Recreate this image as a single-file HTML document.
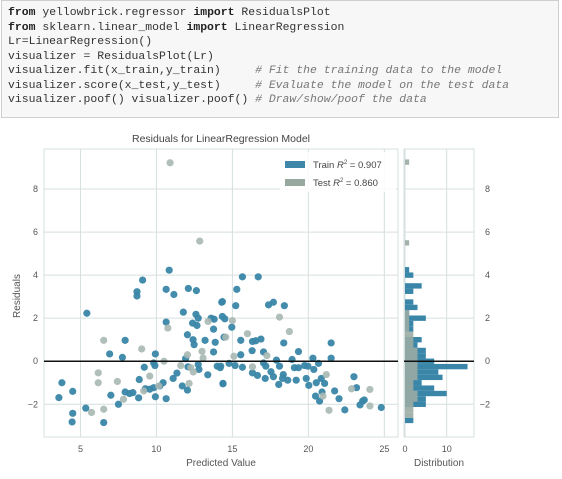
<!DOCTYPE html>
<html><head><meta charset="utf-8">
<style>
body{margin:0;background:#fff;width:562px;height:479px;overflow:hidden;position:relative;font-family:"Liberation Sans",sans-serif}
#code{position:absolute;left:1px;top:0;width:558px;height:118px;background:#f7f7f7;border:1px solid #cfcfcf;box-sizing:border-box}
#code pre{margin:0;position:absolute;left:6px;top:5px;font-family:"Liberation Mono",monospace;font-size:11.45px;line-height:14.5px;color:#333}
.k{font-weight:bold;color:#222}.c{font-style:italic;color:#777}
svg{position:absolute;left:0;top:0}
</style></head><body>
<div id="code"><pre><span class="k">from</span> yellowbrick.regressor <span class="k">import</span> ResidualsPlot
<span class="k">from</span> sklearn.linear_model <span class="k">import</span> LinearRegression
Lr=LinearRegression()
visualizer = ResidualsPlot(Lr)
visualizer.fit(x_train,y_train)     <span class="c"># Fit the training data to the model</span>
visualizer.score(x_test,y_test)     <span class="c"># Evaluate the model on the test data</span>
visualizer.poof() visualizer.poof() <span class="c"># Draw/show/poof the data</span></pre></div>
<svg id="chart" width="562" height="479"></svg>
<script>
const trainX=[10.84,9.09,8.72,8.72,10.64,11.15,12.1,12.63,5.42,14.3,11.77,10.64,12.6,12.75,12.38,12.67,13.6,13.8,13.76,12.04,12.41,12.48,13.2,13.87,13.76,7.94,6.92,7.76,9.93,11.92,12.08,12.75,12.8,9.2,9.9,9.82,14.0,14.2,13.38,11.35,11.1,8.87,10.44,10.22,9.82,9.56,9.27,11.7,12.04,14.38,7.94,8.23,8.45,8.83,7.5,9.93,10.64,3.78,4.49,3.58,5.35,4.49,4.45,6.53,7.0,
15.66,16.7,15.29,14.34,15.22,17.38,17.7,18.42,14.34,14.5,14.96,14.45,15.55,16.32,16.54,16.88,18.38,21.5,16.3,17.05,15.55,19.35,17.9,18.93,20.3,21.5,14.23,14.78,15.18,15.66,17.05,17.2,18.1,19.08,19.35,19.75,19.97,20.36,20.67,16.32,16.65,17.54,17.7,18.35,18.3,18.64,19.2,19.86,20.85,21.07,20.52,17.16,18.05,20.03,14.38,20.9,20.47,20.74,21.73,22.02,22.4,23.0,23.17,23.4,23.57,23.68,24.8];
const trainY=[4.23,3.77,3.23,3.03,3.34,3.1,3.38,3.28,2.23,2.74,2.28,1.82,2.18,2.0,1.77,1.66,2.0,1.95,1.49,1.23,1.0,0.77,0.97,0.88,0.43,0.97,0.34,0.18,0.34,0.12,-0.26,-0.15,-0.38,-0.28,-0.2,-0.08,-0.23,-0.3,-0.63,-0.55,-0.8,-0.85,-1.0,-1.15,-1.23,-1.3,-1.28,-1.15,-1.34,-1.03,-1.43,-1.5,-1.46,-1.7,-2.0,-1.65,-1.74,-1.0,-1.4,-1.69,-2.18,-2.42,-2.82,-2.85,-1.58,
3.92,3.92,3.34,2.77,2.58,2.62,2.74,2.58,2.08,1.97,1.58,1.12,0.97,0.92,0.95,1.03,0.85,0.85,0.49,0.43,0.3,0.45,0.05,0.08,0.14,0.14,-0.23,-0.1,-0.2,-0.28,-0.08,-0.23,-0.23,-0.3,-0.3,-0.2,-0.23,-0.38,-0.1,-0.54,-0.66,-0.49,-0.72,-0.62,-0.8,-0.88,-0.88,-0.8,-0.8,-1.03,-1.0,-0.8,-1.08,-1.12,-1.05,-1.43,-1.62,-1.85,-1.38,-1.74,-2.26,-0.72,-1.23,-2.03,-1.85,-1.8,-2.15];
const testX=[10.9,12.85,6.53,9.03,10.75,13.4,6.17,6.17,7.43,9.56,10.16,10.5,11.6,12.26,12.43,12.04,13.0,13.07,12.15,9.16,7.83,5.73,6.53,18.1,15.0,18.75,15.99,14.56,17.27,15.1,16.32,21.18,20.96,22.84,24.05,24.05,21.36];
const testY=[9.22,5.58,0.97,0.57,1.54,1.85,-0.54,-1.0,-0.94,-0.69,-1.15,0,-0.2,-0.3,-0.5,0.3,0.46,0.15,-1.03,-1.38,-1.77,-2.38,-2.23,2.05,1.89,1.38,1.28,1.12,0.26,0.23,-0.26,-0.62,-1.62,-1.28,-1.31,-2.08,-2.28];
const histBins=[9.25,5.5,4.25,4.0,3.5,3.25,2.75,2.5,2.25,2.0,1.75,1.5,1.25,1.0,0.75,0.5,0.25,0.0,-0.25,-0.5,-0.75,-1.0,-1.25,-1.5,-1.75,-2.0,-2.25,-2.5,-2.75];
const histTrain=[0,0,1,2,4,2,2,3,1,5,2,2,0,4,3,5,5,7,15,8,9,4,7,10,5,5,0,0,2];
const histTest=[1,1,0,0,0,0,0,0,1,1,1,1,2,2,2,3,3,3,3,3,3,2,2,3,3,2,2,2,0];
const xTicks=[5,10,15,20,25];
const yTicks=[-2,0,2,4,6,8];
const hTicks=[0,10];

const NS="http://www.w3.org/2000/svg";
const svg=document.getElementById('chart');
function mk(t,a,p){const e=document.createElementNS(NS,t);for(const k in a)e.setAttribute(k,a[k]);(p||svg).appendChild(e);return e;}
const L=44,R=398,T=149,B=437,X0=2.6,X1=25.9,Y0=-3.52,Y1=9.86;
const xs=v=>L+(v-X0)/(X1-X0)*(R-L);
const ys=v=>T+(Y1-v)/(Y1-Y0)*(B-T);
const HL=404,HR=474;
const hx=v=>405+v*4.17;
const grid='#d6dfdf';

// main axes frame
let f=mk('rect',{x:L,y:T,width:R-L,height:B-T,fill:'#fff',stroke:grid,'stroke-width':1});

let hf=mk('rect',{x:HL,y:T,width:HR-HL,height:B-T,fill:'#fff',stroke:grid,'stroke-width':1});


xTicks.forEach(v=>{
  let g=mk('line',{x1:xs(v),x2:xs(v),y1:T,y2:B,stroke:grid,'stroke-width':1});
  
  let t=mk('text',{x:xs(v),y:452,'text-anchor':'middle','font-size':9,fill:'#555'});t.textContent=v;
  
});
yTicks.forEach(v=>{
  let g=mk('line',{x1:L,x2:R,y1:ys(v),y2:ys(v),stroke:grid,'stroke-width':1});
  
  let g2=mk('line',{x1:HL,x2:HR,y1:ys(v),y2:ys(v),stroke:grid,'stroke-width':1});
  
  let t=mk('text',{x:38,y:ys(v)+3,'text-anchor':'end','font-size':9,fill:'#555'});t.textContent=v<0?'\u2212'+(-v):v;
  
  let t2=mk('text',{x:490,y:ys(v)+3,'text-anchor':'end','font-size':9,fill:'#555'});t2.textContent=v<0?'\u2212'+(-v):v;
  
});
hTicks.forEach(v=>{
  let g=mk('line',{x1:hx(v),x2:hx(v),y1:T,y2:B,stroke:grid,'stroke-width':1});
  
  let t=mk('text',{x:hx(v),y:452,'text-anchor':'middle','font-size':9,fill:'#555'});t.textContent=v;
  
});

// histogram
const bh=0.25;
histBins.forEach((b,i)=>{
  if(histTrain[i]>0){let r=mk('rect',{x:hx(0),y:ys(b+bh/2),width:hx(histTrain[i])-hx(0),height:ys(b-bh/2)-ys(b+bh/2),fill:'#3a86a8'});
  }
});
histBins.forEach((b,i)=>{
  if(histTest[i]>0){let r=mk('rect',{x:hx(0),y:ys(b+bh/2),width:hx(histTest[i])-hx(0),height:ys(b-bh/2)-ys(b+bh/2),fill:'#9aaba3','fill-opacity':0.9});
  }
});

// points
trainX.forEach((x,i)=>{
  let c=mk('circle',{cx:xs(x),cy:ys(trainY[i]),r:3.6,fill:'#3a86a8','fill-opacity':0.95});
  
});
testX.forEach((x,i)=>{
  let c=mk('circle',{cx:xs(x),cy:ys(testY[i]),r:3.6,fill:'#a9b8b2','fill-opacity':0.9});
  
});

// zero lines
let z=mk('line',{x1:L,x2:R,y1:ys(0),y2:ys(0),stroke:'#111','stroke-width':1.5});

let z2=mk('line',{x1:HL,x2:HR,y1:ys(0),y2:ys(0),stroke:'#111','stroke-width':1.5});


// legend
let lg=mk('g',{});
let lb=mk('rect',{x:280,y:152,width:116,height:40,fill:'#fff','fill-opacity':0.85},lg);

let p1=mk('rect',{x:285,y:161,width:20,height:7,fill:'#3f87a9'},lg);

let p2=mk('rect',{x:285,y:179,width:20,height:7,fill:'#97a89f'},lg);

let t1=mk('text',{x:313,y:168,'font-size':9.5,fill:'#444'},lg);
t1.innerHTML='Train <tspan font-style="italic">R</tspan><tspan dy="-4" font-size="6">2</tspan><tspan dy="4"> = 0.907</tspan>';

let t2=mk('text',{x:313,y:186,'font-size':9.5,fill:'#444'},lg);
t2.innerHTML='Test <tspan font-style="italic">R</tspan><tspan dy="-4" font-size="6">2</tspan><tspan dy="4"> = 0.860</tspan>';


// titles
let ti=mk('text',{x:221,y:142,'text-anchor':'middle','font-size':10.5,fill:'#444'});ti.textContent='Residuals for LinearRegression Model';

let xl=mk('text',{x:221,y:466,'text-anchor':'middle','font-size':10,fill:'#555'});xl.textContent='Predicted Value';

let dl=mk('text',{x:439,y:466,'text-anchor':'middle','font-size':10,fill:'#555'});dl.textContent='Distribution';

let yl=mk('text',{x:20,y:296,'text-anchor':'middle','font-size':10,fill:'#555',transform:'rotate(-90 20 296)'});yl.textContent='Residuals';

</script>
</body></html>
